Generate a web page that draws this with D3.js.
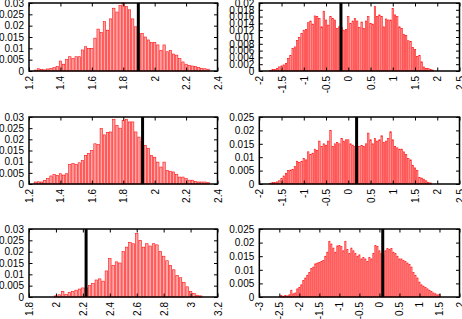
<!DOCTYPE html>
<html><head><meta charset="utf-8">
<script src="https://cdn.jsdelivr.net/npm/d3@7"></script>
<style>
html,body{margin:0;padding:0;background:#fff;}
svg{display:block;}
text{font-family:"Liberation Sans",Arial,sans-serif;font-size:10px;fill:#000;}
</style></head><body>
<svg id="chart" width="462" height="319"></svg>
<script>
// ---- Data ----
const p1Bins = [1.24,1.26,1.28,1.30,1.32,1.34,1.36,1.38,1.40,1.42,1.44,1.46,1.48,1.50,1.52,1.54,1.56,1.58,1.60,1.62,1.64,1.66,1.68,1.70,1.72,1.74,1.76,1.78,1.80,1.82,1.84,1.86,1.88,1.90,1.92,1.94,1.96,1.98,2.00,2.02,2.04,2.06,2.08,2.10,2.12,2.14,2.16,2.18,2.20,2.22,2.24,2.26,2.28,2.30,2.32,2.34];
const p1Vals = [0.0004,0.0010,0.0006,0.0005,0.0009,0.0011,0.0015,0.0020,0.0044,0.0030,0.0050,0.0063,0.0055,0.0063,0.0063,0.0093,0.0107,0.0100,0.0100,0.0145,0.0185,0.0170,0.0218,0.0180,0.0230,0.0277,0.0260,0.0290,0.0300,0.0284,0.0270,0.0230,0.0195,0.0166,0.0166,0.0150,0.0137,0.0125,0.0125,0.0115,0.0090,0.0115,0.0085,0.0090,0.0075,0.0070,0.0055,0.0040,0.0030,0.0025,0.0022,0.0020,0.0015,0.0012,0.0010,0.0008];

const p2Bins = [-1.75,-1.70,-1.65,-1.60,-1.55,-1.50,-1.45,-1.40,-1.35,-1.30,-1.25,-1.20,-1.15,-1.10,-1.05,-1.00,-0.95,-0.90,-0.85,-0.80,-0.75,-0.70,-0.65,-0.60,-0.55,-0.50,-0.45,-0.40,-0.35,-0.30,-0.25,-0.20,-0.15,-0.10,-0.05,0.00,0.05,0.10,0.15,0.20,0.25,0.30,0.35,0.40,0.45,0.50,0.55,0.60,0.65,0.70,0.75,0.80,0.85,0.90,0.95,1.00,1.05,1.10,1.15,1.20,1.25,1.30,1.35,1.40,1.45,1.50,1.55,1.60,1.65,1.70,1.75,1.80,1.85,1.90];
const p2Vals = [0.0002,0.0004,0.0005,0.0008,0.0012,0.0015,0.0018,0.0022,0.0037,0.0046,0.0066,0.0071,0.0090,0.0099,0.0110,0.0120,0.0122,0.0142,0.0147,0.0138,0.0162,0.0160,0.0155,0.0130,0.0176,0.0150,0.0135,0.0160,0.0155,0.0150,0.0125,0.0130,0.0128,0.0120,0.0122,0.0160,0.0140,0.0147,0.0155,0.0147,0.0128,0.0144,0.0125,0.0147,0.0160,0.0140,0.0138,0.0190,0.0160,0.0165,0.0160,0.0130,0.0153,0.0150,0.0150,0.0184,0.0165,0.0160,0.0130,0.0125,0.0107,0.0105,0.0089,0.0087,0.0069,0.0063,0.0043,0.0046,0.0027,0.0012,0.0007,0.0007,0.0004,0.0003];

const p3Bins = p1Bins.slice();
const p3Vals = [0.0009,0.0010,0.0009,0.0016,0.0024,0.0036,0.0042,0.0039,0.0046,0.0040,0.0046,0.0087,0.0091,0.0087,0.0095,0.0106,0.0128,0.0136,0.0150,0.0180,0.0177,0.0248,0.0220,0.0230,0.0233,0.0290,0.0262,0.0250,0.0285,0.0290,0.0278,0.0278,0.0233,0.0210,0.0190,0.0173,0.0160,0.0128,0.0120,0.0098,0.0076,0.0098,0.0061,0.0057,0.0054,0.0042,0.0031,0.0031,0.0024,0.0017,0.0017,0.0012,0.0009,0.0009,0.0009,0.0006];

const p4Bins = [-1.75,-1.70,-1.65,-1.60,-1.55,-1.50,-1.45,-1.40,-1.35,-1.30,-1.25,-1.20,-1.15,-1.10,-1.05,-1.00,-0.95,-0.90,-0.85,-0.80,-0.75,-0.70,-0.65,-0.60,-0.55,-0.50,-0.45,-0.40,-0.35,-0.30,-0.25,-0.20,-0.15,-0.10,-0.05,0.00,0.05,0.10,0.15,0.20,0.25,0.30,0.35,0.40,0.45,0.50,0.55,0.60,0.65,0.70,0.75,0.80,0.85,0.90,0.95,1.00,1.05,1.10,1.15,1.20,1.25,1.30,1.35,1.40,1.45,1.50,1.55,1.60,1.65,1.70,1.75,1.80,1.85];
const p4Vals = [0.0003,0.0005,0.0006,0.0008,0.0012,0.0020,0.0030,0.0040,0.0050,0.0052,0.0055,0.0065,0.0085,0.0080,0.0085,0.0095,0.0090,0.0120,0.0110,0.0115,0.0130,0.0125,0.0160,0.0140,0.0150,0.0145,0.0160,0.0200,0.0140,0.0150,0.0155,0.0150,0.0170,0.0160,0.0165,0.0165,0.0150,0.0145,0.0140,0.0142,0.0140,0.0143,0.0140,0.0150,0.0190,0.0165,0.0150,0.0170,0.0160,0.0165,0.0180,0.0155,0.0160,0.0170,0.0195,0.0165,0.0140,0.0135,0.0130,0.0130,0.0120,0.0110,0.0095,0.0090,0.0070,0.0060,0.0050,0.0025,0.0022,0.0018,0.0012,0.0006,0.0004];

const p5Bins = [2.000,2.025,2.050,2.075,2.100,2.125,2.150,2.175,2.200,2.225,2.250,2.275,2.300,2.325,2.350,2.375,2.400,2.425,2.450,2.475,2.500,2.525,2.550,2.575,2.600,2.625,2.650,2.675,2.700,2.725,2.750,2.775,2.800,2.825,2.850,2.875,2.900,2.925,2.950,2.975,3.000,3.025,3.050,3.075];
const p5Vals = [0.0005,0.0010,0.0025,0.0012,0.0020,0.0025,0.0030,0.0035,0.0040,0.0040,0.0050,0.0060,0.0075,0.0080,0.0070,0.0115,0.0170,0.0140,0.0155,0.0150,0.0200,0.0220,0.0240,0.0235,0.0280,0.0250,0.0220,0.0235,0.0225,0.0235,0.0230,0.0200,0.0180,0.0160,0.0140,0.0120,0.0095,0.0085,0.0065,0.0045,0.0025,0.0015,0.0008,0.0005];

const p6Bins = [-2.45,-2.40,-2.35,-2.30,-2.25,-2.20,-2.15,-2.10,-2.05,-2.00,-1.95,-1.90,-1.85,-1.80,-1.75,-1.70,-1.65,-1.60,-1.55,-1.50,-1.45,-1.40,-1.35,-1.30,-1.25,-1.20,-1.15,-1.10,-1.05,-1.00,-0.95,-0.90,-0.85,-0.80,-0.75,-0.70,-0.65,-0.60,-0.55,-0.50,-0.45,-0.40,-0.35,-0.30,-0.25,-0.20,-0.15,-0.10,-0.05,0.00,0.05,0.10,0.15,0.20,0.25,0.30,0.35,0.40,0.45,0.50,0.55,0.60,0.65,0.70,0.75,0.80,0.85,0.90,0.95,1.00,1.05,1.10,1.15,1.20,1.25,1.30,1.35,1.40,1.45,1.50];
const p6Vals = [0.0005,0.0003,0.0005,0.0004,0.0008,0.0025,0.0012,0.0015,0.0030,0.0035,0.0045,0.0060,0.0070,0.0080,0.0090,0.0105,0.0110,0.0122,0.0125,0.0127,0.0130,0.0135,0.0150,0.0165,0.0205,0.0195,0.0180,0.0165,0.0188,0.0190,0.0185,0.0170,0.0205,0.0175,0.0160,0.0180,0.0170,0.0160,0.0150,0.0155,0.0140,0.0145,0.0140,0.0130,0.0145,0.0140,0.0160,0.0190,0.0185,0.0170,0.0160,0.0155,0.0170,0.0178,0.0175,0.0178,0.0165,0.0160,0.0150,0.0140,0.0140,0.0135,0.0130,0.0125,0.0120,0.0110,0.0090,0.0080,0.0070,0.0055,0.0045,0.0040,0.0035,0.0030,0.0025,0.0020,0.0015,0.0012,0.0008,0.0010];

const binWidths = [0.02, 0.05, 0.02, 0.05, 0.025, 0.05];
const markerLines = [1.896, -0.165, 1.923, 0.187, 2.224, 0.083];

const xTicksA = [1.2,1.4,1.6,1.8,2,2.2,2.4];
const xTicksB = [-2,-1.5,-1,-0.5,0,0.5,1,1.5,2,2.5];
const xTicksC = [1.8,2,2.2,2.4,2.6,2.8,3,3.2];
const xTicksD = [-3,-2.5,-2,-1.5,-1,-0.5,0,0.5,1,1.5,2];
const yTicks03 = [0,0.005,0.01,0.015,0.02,0.025,0.03];
const yTicks02 = [0,0.002,0.004,0.006,0.008,0.01,0.012,0.014,0.016,0.018,0.02];
const yTicks025 = [0,0.005,0.01,0.015,0.02,0.025];

const panels = [
  {bins:p1Bins, vals:p1Vals, xd:[1.2,2.4], yd:[0,0.03], xt:xTicksA, yt:yTicks03, box:[29,217.5,3,71]},
  {bins:p2Bins, vals:p2Vals, xd:[-2,2.5], yd:[0,0.02], xt:xTicksB, yt:yTicks02, box:[259.3,459.5,3,71]},
  {bins:p3Bins, vals:p3Vals, xd:[1.2,2.4], yd:[0,0.03], xt:xTicksA, yt:yTicks03, box:[29,217.5,117,184]},
  {bins:p4Bins, vals:p4Vals, xd:[-2,2.5], yd:[0,0.025], xt:xTicksB, yt:yTicks025, box:[259.3,459.5,117,184]},
  {bins:p5Bins, vals:p5Vals, xd:[1.8,3.2], yd:[0,0.03], xt:xTicksC, yt:yTicks03, box:[29,217.5,229,297]},
  {bins:p6Bins, vals:p6Vals, xd:[-3,2], yd:[0,0.025], xt:xTicksD, yt:yTicks025, box:[259.3,459.5,229,297]}
];

const svg = d3.select("#chart");
const fmt = d => String(+d.toFixed(4));

panels.forEach((p, i) => {
  const [L, R, T, B] = p.box;
  const x = d3.scaleLinear().domain(p.xd).range([L, R]);
  const y = d3.scaleLinear().domain(p.yd).range([B, T]);
  const g = svg.append("g");
  const bw = binWidths[i];
  const data = p.bins.map((b, k) => ({c: b, v: p.vals[k]}));

  g.selectAll("rect.bar").data(data).enter().append("rect")
    .attr("class", "bar")
    .attr("x", d => x(d.c - bw / 2) + 0.4)
    .attr("width", d => Math.max(0.5, x(d.c + bw / 2) - x(d.c - bw / 2) - 0.8))
    .attr("y", d => y(d.v))
    .attr("height", d => B - y(d.v))
    .attr("fill", "#ffa8a8")
    .attr("stroke", "#ff1010")
    .attr("stroke-width", 0.6);

  // marker line
  g.append("line")
    .attr("x1", x(markerLines[i])).attr("x2", x(markerLines[i]))
    .attr("y1", T).attr("y2", B)
    .attr("stroke", "#000").attr("stroke-width", 3);

  // axes with inward ticks (mirrored)
  const tl = 3.5;
  const xb = g.append("g").attr("transform", `translate(0,${B})`)
    .call(d3.axisBottom(x).tickValues(p.xt).tickSize(-tl).tickFormat(fmt));
  xb.selectAll(".tick text")
    .attr("transform", "rotate(-90)")
    .attr("text-anchor", "end")
    .attr("x", -5).attr("y", 0).attr("dx", 0).attr("dy", "0.35em");
  g.append("g").attr("transform", `translate(0,${T})`)
    .call(d3.axisTop(x).tickValues(p.xt).tickSize(-tl).tickFormat(""));
  g.append("g").attr("transform", `translate(${L},0)`)
    .call(d3.axisLeft(y).tickValues(p.yt).tickSize(-tl).tickPadding(5).tickFormat(fmt));
  g.append("g").attr("transform", `translate(${R},0)`)
    .call(d3.axisRight(y).tickValues(p.yt).tickSize(-tl).tickFormat(""));
  g.selectAll(".domain").remove();
  g.selectAll(".tick line").attr("stroke", "#000").attr("stroke-width", 1);
  g.selectAll(".tick text").style("font-family", "'Liberation Sans', Arial, sans-serif").style("font-size", "10px");

  g.append("rect").attr("x", L).attr("y", T).attr("width", R - L).attr("height", B - T)
    .attr("fill", "none").attr("stroke", "#000").attr("stroke-width", 1.5);
});
</script>
</body></html>
